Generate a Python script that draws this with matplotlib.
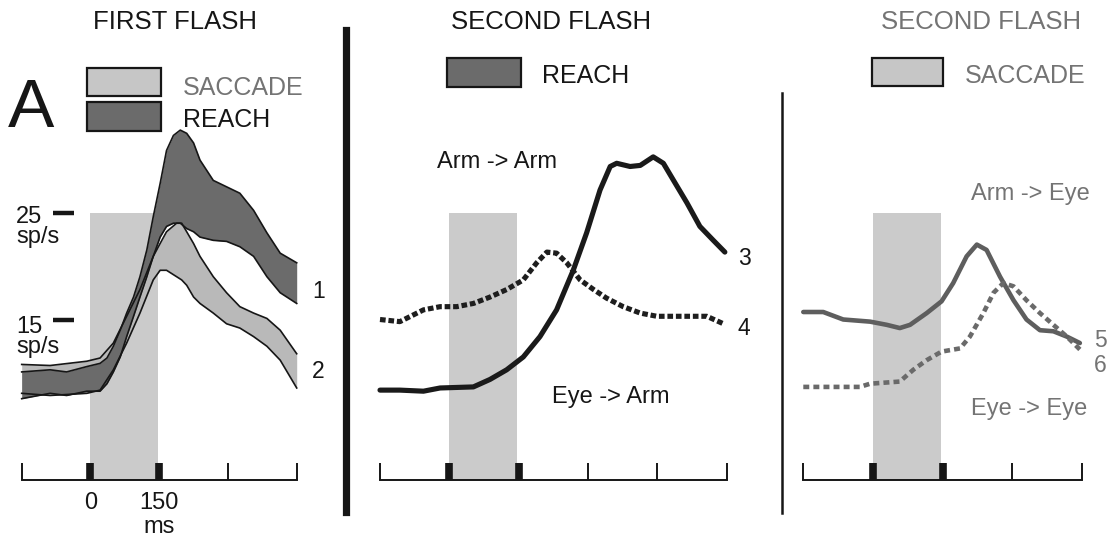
import matplotlib.pyplot as plt
from matplotlib.lines import Line2D
from matplotlib.patches import Rectangle

W, H = 1107, 536
BASE_Y = 480          # pixel row of 0 sp/s
PX_PER_RATE = 10.7    # pixels per sp/s
YMAX = 40

# ---- panel A: first flash (ms, sp/s) ----
t_reach = [-150, -88, -52, -8, 21, 36, 50, 65, 79, 94, 108, 123, 137, 152,
           166, 181, 196, 210, 225, 239, 268, 297, 326, 356, 385, 414, 450]
reach_hi = [10.1, 10.3, 10.1, 10.6, 10.9, 11.4, 12.5, 14.0, 15.6, 17.1, 19.0,
            21.5, 24.6, 27.7, 30.8, 32.2, 32.7, 32.4, 31.5, 29.9, 28.0, 27.4,
            26.8, 25.2, 23.1, 21.2, 20.3]
reach_lo = [7.6, 8.1, 7.9, 8.3, 8.3, 9.0, 10.1, 11.5, 13.4, 15.3, 17.1, 19.0,
            20.9, 22.7, 23.7, 24.0, 24.0, 23.5, 23.2, 22.7, 22.4, 22.3, 21.8,
            20.9, 19.0, 17.5, 16.5]

t_sacc = [-150, -88, -8, 21, 50, 79, 108, 137, 152, 166, 188, 199, 210, 225,
          239, 268, 297, 326, 356, 385, 414, 450]
sacc_hi = [10.8, 10.7, 11.1, 11.4, 12.8, 15.3, 17.8, 20.9, 22.1, 23.2, 24.0,
           24.0, 23.2, 22.1, 20.9, 19.0, 17.5, 16.2, 15.6, 15.1, 14.0, 11.8]
sacc_lo = [8.1, 7.9, 8.1, 8.4, 10.3, 12.8, 15.6, 18.7, 19.6, 19.6, 19.0, 18.7,
           18.2, 17.1, 16.5, 15.6, 14.6, 14.2, 13.4, 12.5, 11.2, 8.6]

# ---- second flash, reach (curves 3 and 4) ----
t_arm_arm = [-150, -107, -56, -20, 52, 88, 124, 160, 196, 232, 268, 297, 326,
             348, 362, 391, 413, 441, 463, 485, 514, 542, 571, 596]
arm_arm = [8.4, 8.4, 8.3, 8.6, 8.7, 9.4, 10.3, 11.5, 13.4, 15.9, 19.6, 23.1,
           27.1, 29.3, 29.6, 29.3, 29.4, 30.2, 29.6, 28.0, 25.9, 23.7, 22.4,
           21.3]
t_eye_arm = [-150, -107, -56, -20, 16, 52, 88, 124, 160, 189, 211, 232, 254,
             283, 312, 340, 376, 413, 449, 485, 521, 557, 593]
eye_arm = [15.0, 14.8, 15.9, 16.2, 16.2, 16.5, 17.1, 17.8, 18.7, 20.3, 21.3,
           21.2, 20.3, 18.7, 17.8, 17.0, 16.2, 15.6, 15.3, 15.3, 15.3, 15.3,
           14.6]

# ---- second flash, saccade (curves 5 and 6) ----
t_arm_eye = [-150, -107, -64, -6, 30, 58, 80, 116, 148, 173, 202, 224, 245,
             274, 303, 331, 360, 389, 418, 446]
arm_eye = [15.7, 15.7, 15.0, 14.8, 14.5, 14.2, 14.5, 15.6, 16.7, 18.4, 20.9,
           22.0, 21.5, 19.0, 16.8, 15.0, 14.0, 13.9, 13.4, 12.8]
t_eye_eye = [-150, -100, -28, -6, 58, 87, 116, 148, 188, 209, 238, 260, 281,
             303, 331, 360, 389, 418, 446]
eye_eye = [8.7, 8.7, 8.7, 9.0, 9.2, 10.3, 11.2, 12.0, 12.3, 13.4, 15.6, 17.5,
           18.4, 18.1, 16.8, 15.6, 14.5, 13.4, 12.2]

TICKS_A = [-150, 0, 150, 300, 450]
TICKS_B = [-150, 0, 150, 300, 450, 600]
MOVE_START, MOVE_LEN, MOVE_TOP = 0, 147, 25
ONSET_TICKS = [0, 150]
RATE_MARKS = [25, 15]

plt.rcParams['font.family'] = ['Liberation Sans', 'DejaVu Sans']

LIGHT_BOX = '#cbcbcb'
SACC_FILL = '#b9b9b9'
REACH_FILL = '#6b6b6b'
INK = '#161616'
GREY_TXT = '#747474'


def label(fig, x, y, s, **kw):
    kw.setdefault('va', 'baseline')
    kw.setdefault('fontsize', 17)
    kw.setdefault('color', INK)
    fig.text(x / W, 1 - y / H, s, **kw)


def box(fig, x0, y0, x1, y1, color):
    fig.add_artist(Rectangle((x0 / W, 1 - y1 / H), (x1 - x0) / W, (y1 - y0) / H,
                             transform=fig.transFigure, facecolor=color,
                             edgecolor=INK, lw=1.6))


def vline(fig, x, y0, y1, lw):
    fig.add_artist(Line2D([x / W, x / W], [1 - y0 / H, 1 - y1 / H], lw=lw,
                          color=INK, transform=fig.transFigure))


def panel(fig, x0, x1, ticks):
    ax = fig.add_axes([x0 / W, (H - BASE_Y) / H, (x1 - x0) / W,
                       YMAX * PX_PER_RATE / H])
    ax.set_xlim(ticks[0], ticks[-1])
    ax.set_ylim(0, YMAX)
    ax.patch.set_visible(False)
    for s in ['top', 'right', 'left']:
        ax.spines[s].set_visible(False)
    ax.spines['bottom'].set_linewidth(1.4)
    ax.spines['bottom'].set_color(INK)
    ax.set_xticks(ticks)
    ax.set_xticklabels([''] * len(ticks))
    ax.set_yticks([])
    ax.tick_params(axis='x', direction='in', length=12, width=1.4, color=INK,
                   labelsize=17, pad=8.5, labelcolor=INK)
    ax.bar(MOVE_START, MOVE_TOP, width=MOVE_LEN, align='edge',
           color=LIGHT_BOX, zorder=0)
    ax.vlines(ONSET_TICKS, 0, 16.7 / PX_PER_RATE, lw=5.5, color=INK, zorder=6)
    return ax


fig = plt.figure(figsize=(W / 100, H / 100), dpi=100)

# panel A
ax1 = panel(fig, 21.7, 296.7, TICKS_A)
ax1.set_xticklabels(['', '0', '150', '', ''])
ax1.set_xlabel('ms', fontsize=17, labelpad=1.5, color=INK)
ax1.fill_between(t_sacc, sacc_lo, sacc_hi, color=SACC_FILL, lw=0, zorder=1)
ax1.fill_between(t_reach, reach_lo, reach_hi, color=REACH_FILL, lw=0, zorder=2)
for t, y in [(t_sacc, sacc_hi), (t_sacc, sacc_lo),
             (t_reach, reach_hi), (t_reach, reach_lo)]:
    ax1.plot(t, y, color=INK, lw=1.2, zorder=3, clip_on=False)
ax1.hlines(RATE_MARKS, -81, -36, lw=3.2, color=INK, clip_on=False)

# panel B
ax2 = panel(fig, 380, 726.7, TICKS_B)
ax2.plot(t_arm_arm, arm_arm, color='#1a1a1a', lw=3.7, zorder=4,
         solid_capstyle='round', solid_joinstyle='round', clip_on=False)
ax2.plot(t_eye_arm, eye_arm, color='#1e1e1e', lw=3.7, zorder=4,
         linestyle=(0, (1.1, 0.55)), clip_on=False)

# panel C
ax3 = panel(fig, 803.3, 1081.7, TICKS_A)
ax3.plot(t_arm_eye, arm_eye, color='#5e5e5e', lw=3.3, zorder=4,
         solid_capstyle='round', solid_joinstyle='round', clip_on=False)
ax3.plot(t_eye_eye, eye_eye, color='#6a6a6a', lw=3.3, zorder=4,
         linestyle=(0, (1.3, 0.9)), clip_on=False)

# separators
vline(fig, 346, 30, 512, 5.2)
vline(fig, 781.7, 93, 513, 1.8)

# titles
label(fig, 175, 29, 'FIRST FLASH', ha='center', fontsize=18.5)
label(fig, 551, 29, 'SECOND FLASH', ha='center', fontsize=18.5)
label(fig, 981, 29, 'SECOND FLASH', ha='center', fontsize=18.5,
      color=GREY_TXT)

# legends
label(fig, 8, 127, 'A', fontsize=50)
box(fig, 87, 68, 161, 96, '#c6c6c6')
box(fig, 87, 102, 161, 131, REACH_FILL)
label(fig, 183, 95, 'SACCADE', fontsize=18, color=GREY_TXT)
label(fig, 183, 127, 'REACH', fontsize=18)
box(fig, 447, 58, 521, 87, REACH_FILL)
label(fig, 542, 83, 'REACH', fontsize=18)
box(fig, 872, 58, 943, 86, '#c6c6c6')
label(fig, 965, 83, 'SACCADE', fontsize=18, color=GREY_TXT)

# rate scale marks
label(fig, 16, 223, '25')
label(fig, 16, 243, 'sp/s')
label(fig, 16, 333, '15')
label(fig, 16, 353, 'sp/s')

# curve annotations
label(fig, 312, 298, '1', fontsize=16.5)
label(fig, 312, 378, '2', fontsize=16.5)
label(fig, 738, 265, '3', fontsize=16.5)
label(fig, 738, 335, '4', fontsize=16.5)
label(fig, 1094, 347, '5', fontsize=16.5, color=GREY_TXT)
label(fig, 1094, 372, '6', fontsize=16.5, color=GREY_TXT)
label(fig, 497, 168, 'Arm -> Arm', ha='center')
label(fig, 611, 403, 'Eye -> Arm', ha='center')
label(fig, 1030, 200, 'Arm -> Eye', ha='center', color=GREY_TXT)
label(fig, 1029, 415, 'Eye -> Eye', ha='center', color=GREY_TXT)

fig.savefig('out.png', dpi=100)
